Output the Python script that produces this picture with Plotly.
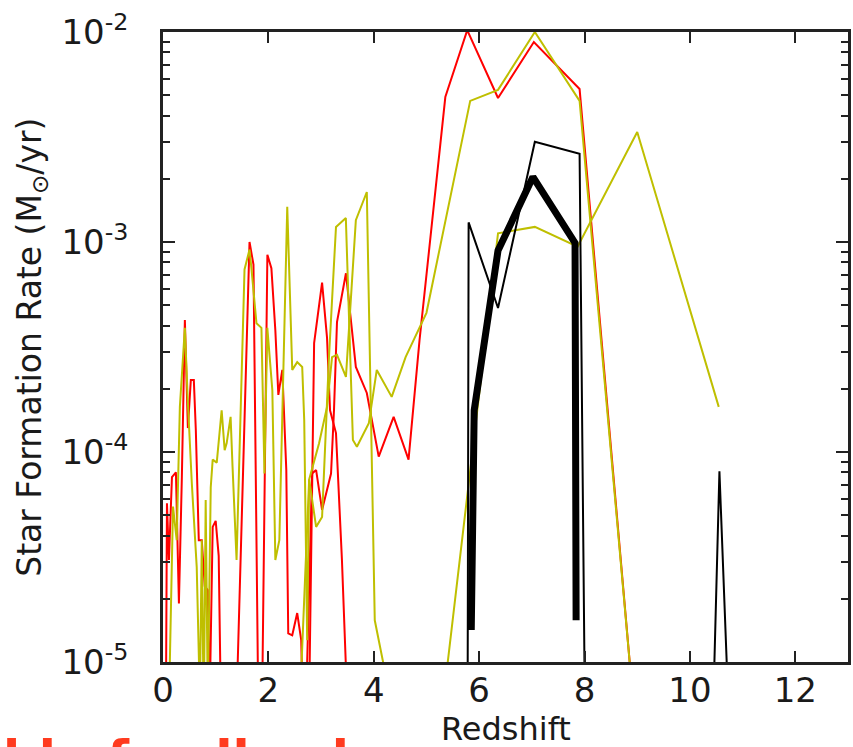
import plotly.graph_objects as go

# ---------------- data (redshift z, star formation rate in Msun/yr) ----------------
red_a_z = [0.0, 0.075, 0.113, 0.170, 0.245, 0.302, 0.358, 0.415, 0.472, 0.528, 0.585, 0.623,
           0.679, 0.736, 0.792, 0.849, 0.887, 0.943, 1.0, 1.057, 1.113, 1.377, 1.642, 1.717,
           1.811, 2.698, 2.830, 2.906, 3.019, 3.189, 3.245, 3.302, 3.472, 3.66, 3.868, 4.094,
           4.377, 4.66, 4.868, 5.358, 5.774, 6.358, 7.038, 7.906, 8.887]
red_a_sfr = [1e-8, 5.7e-5, 3.06e-5, 7.6e-5, 8.0e-5, 1.9e-5, 7.6e-5, 4.25e-4, 1.3e-4, 2.2e-4, 2.2e-4, 1.27e-4,
             3.8e-5, 3.8e-5, 2.3e-5, 2.2e-5, 6.6e-6, 4.4e-5, 4.7e-5, 3.2e-5, 3.4e-6, 4.3e-6, 1.0e-3, 7.8e-4,
             5.3e-6, 4.3e-6, 7.9e-5, 8.2e-5, 5.3e-5, 7.9e-5, 1.58e-4, 4.16e-4, 7.1e-4, 2.54e-4, 1.91e-4, 9.5e-5,
             1.47e-4, 9.2e-5, 3.4e-4, 4.9e-3, 1.02e-2, 4.85e-3, 8.96e-3, 5.35e-3, 8.2e-6]

red_b_z = [1.868, 1.981, 2.057, 2.132, 2.189, 2.264, 2.34, 2.377, 2.453, 2.547, 2.623, 2.66,
           2.774, 2.868, 3.019, 3.113, 3.17, 3.283, 3.396, 3.509]
red_b_sfr = [3.4e-6, 8.7e-4, 7.5e-4, 3.8e-4, 1.87e-4, 2.46e-4, 8.2e-5, 1.37e-5, 1.34e-5, 1.71e-5, 1.27e-5, 5.3e-6,
             6.6e-6, 3.3e-4, 6.4e-4, 3.5e-4, 1.58e-4, 1.23e-4, 3.06e-5, 5.3e-6]

yel_a_z = [0.0, 0.13, 0.19, 0.26, 0.32, 0.415, 0.47, 0.547, 0.64, 0.70, 0.736, 0.774, 0.81, 0.85,
           0.906, 0.943, 1.02, 1.113, 1.17, 1.208, 1.283, 1.32, 1.396, 1.547, 1.642, 1.68, 1.774,
           1.868, 1.925, 1.98, 2.075, 2.132, 2.208, 2.358, 2.453, 2.547, 2.642, 2.68, 2.736, 2.774,
           2.906, 3.019, 3.15, 3.283, 3.47, 3.604, 3.68, 3.906, 4.057, 4.34, 4.604, 5.0, 5.83,
           6.358, 7.057, 7.906, 8.887]
yel_a_sfr = [1e-8, 1e-5, 5.5e-5, 3.8e-5, 1.64e-4, 3.9e-4, 1.77e-4, 7.1e-5, 2.83e-5, 6.6e-6, 3.8e-5, 5.3e-6, 5.9e-5, 6.6e-6,
             6.8e-5, 9.2e-5, 8.9e-5, 1.58e-4, 1.02e-4, 1.1e-4, 1.47e-4, 8.5e-5, 3.06e-5, 7.4e-4, 9.2e-4, 7.4e-4, 4.1e-4,
             3.9e-4, 7.9e-5, 3.9e-4, 1.97e-4, 3.06e-5, 3.8e-5, 1.47e-3, 2.46e-4, 2.68e-4, 2.54e-4, 1.42e-4, 1.27e-5, 7.4e-5,
             4.4e-5, 4.9e-5, 2.83e-4, 1.18e-3, 1.3e-3, 1.14e-4, 1.06e-4, 1.37e-4, 2.46e-4, 1.83e-4, 2.83e-4, 4.6e-4, 4.7e-3,
             5.3e-3, 1.0e-2, 4.7e-3, 8.2e-6]

yel_b_z = [2.585, 2.774, 2.962, 3.113, 3.208, 3.302, 3.472, 3.66, 3.868, 4.019, 4.245, 5.32,
           6.358, 7.057, 7.868, 9.0, 10.547]
yel_b_sfr = [5.3e-6, 7.4e-5, 1.1e-4, 1.64e-4, 2.83e-4, 2.9e-4, 2.28e-4, 1.27e-3, 1.73e-3, 1.58e-5, 8.2e-6, 6.6e-6,
             1.1e-3, 1.18e-3, 9.5e-4, 3.34e-3, 1.64e-4]

black_thin_z = [5.75, 5.80, 6.358, 7.057, 7.906, 8.15, 10.36, 10.56, 10.85]
black_thin_sfr = [1e-9, 1.24e-3, 4.85e-4, 3.0e-3, 2.63e-3, 1e-9, 1e-6, 8.1e-5, 1e-6]

black_thick_z = [5.85, 5.906, 6.358, 7.02, 7.82, 7.84]
black_thick_sfr = [1.42e-5, 1.58e-4, 9.1e-4, 2.04e-3, 9.9e-4, 1.58e-5]

x_ticks = [0, 2, 4, 6, 8, 10, 12]
y_ticks = [1e-5, 1e-4, 1e-3, 1e-2]
y_ticktext = ["10<sup>-5</sup>", "10<sup>-4</sup>", "10<sup>-3</sup>", "10<sup>-2</sup>"]
y_minor = [m * 10.0 ** e for e in (-5, -4, -3) for m in range(2, 10)]

RED = "#FF0000"
YEL = "#BFBF00"
BLK = "#000000"

fig = go.Figure()
series = [
    (red_a_z, red_a_sfr, RED, 2),
    (red_b_z, red_b_sfr, RED, 2),
    (yel_a_z, yel_a_sfr, YEL, 2),
    (yel_b_z, yel_b_sfr, YEL, 2),
    (black_thin_z, black_thin_sfr, BLK, 2),
    (black_thick_z, black_thick_sfr, BLK, 7),
]
for zs, vs, col, w in series:
    fig.add_trace(go.Scatter(x=zs, y=vs, mode="lines",
                             line=dict(color=col, width=w, simplify=False),
                             hoverinfo="skip", showlegend=False))

axis_col = "#222222"
fig.update_layout(
    width=853, height=747,
    margin=dict(l=163, r=2, t=32, b=85),
    plot_bgcolor="white", paper_bgcolor="white",
    font=dict(family="DejaVu Sans", size=34, color="#1a1a1a"),
    showlegend=False,
)
fig.update_xaxes(
    range=[0, 13], tickmode="array", tickvals=x_ticks,
    ticks="inside", ticklen=11, tickwidth=1.5, tickcolor=axis_col,
    showline=True, linewidth=2.5, linecolor=axis_col, mirror="ticks",
    showgrid=False, zeroline=False, tickfont=dict(size=34),
    ticklabelstandoff=-4,
)
fig.update_yaxes(
    type="log", range=[-5, -2], tickmode="array", tickvals=y_ticks, ticktext=y_ticktext,
    ticks="inside", ticklen=12, tickwidth=1.5, tickcolor=axis_col,
    minor=dict(tickmode="array", tickvals=y_minor, ticks="inside", ticklen=7,
               tickwidth=1.5, tickcolor=axis_col, showgrid=False),
    showline=True, linewidth=2.5, linecolor=axis_col, mirror="ticks",
    showgrid=False, zeroline=False, tickfont=dict(size=34),
    ticklabelstandoff=25,
)

fig.add_annotation(text="Star Formation Rate (M<sub>⊙</sub>/yr)", xref="paper", yref="paper",
                   x=-0.193, y=0.5, xanchor="center", yanchor="middle", textangle=-90,
                   showarrow=False, font=dict(size=33, color="#1a1a1a"))
fig.add_annotation(text="Redshift", xref="paper", yref="paper",
                   x=0.5, y=-0.106, xanchor="center", yanchor="middle",
                   showarrow=False, font=dict(size=32, color="#1a1a1a"))
fig.add_annotation(text="<b>ble feedback</b>", xref="paper", yref="paper",
                   x=-0.237, y=-0.1048, xanchor="left", yanchor="top",
                   showarrow=False, font=dict(size=50, color="#FF3B1F", family="DejaVu Sans"))

fig.write_html("out.html")
